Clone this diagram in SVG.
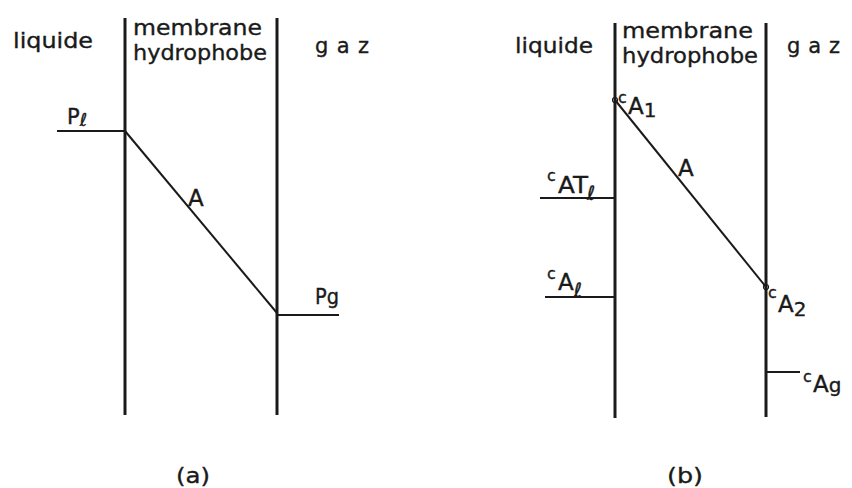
<svg xmlns="http://www.w3.org/2000/svg" width="852" height="488" viewBox="0 0 852 488">
<style>
text{font-family:"DejaVu Sans","Liberation Sans",sans-serif;fill:#1a1a1a;stroke:#1a1a1a;stroke-width:0.35}
.t{font-size:21px}
.L{font-size:23px}
.s{font-size:16px}
.sub{font-size:20px}
.wall{stroke:#1a1a1a;stroke-width:3;fill:none}
.ln{stroke:#1a1a1a;stroke-width:2;fill:none}
</style>
<rect width="852" height="488" fill="#fff"/>
<g id="panel-a">
  <g id="a-labels">
    <text class="t" x="13" y="48" textLength="80" lengthAdjust="spacingAndGlyphs">liquide</text>
    <text class="t" x="133" y="35" textLength="129" lengthAdjust="spacingAndGlyphs">membrane</text>
    <text class="t" x="133" y="60" textLength="134" lengthAdjust="spacingAndGlyphs">hydrophobe</text>
    <text class="t" x="315" y="53" textLength="54" lengthAdjust="spacing">g a z</text>
  </g>
  <g id="a-membrane">
    <line class="wall" x1="125" y1="18" x2="125" y2="415"/>
    <line class="wall" x1="277" y1="18" x2="277" y2="415"/>
  </g>
  <g id="a-Pl">
    <line class="ln" x1="57" y1="131" x2="125" y2="131"/>
    <text class="t" x="67" y="124">P<tspan font-style="italic" font-size="18" dy="2">ℓ</tspan></text>
  </g>
  <g id="a-Pg">
    <line class="ln" x1="277" y1="315" x2="339" y2="315"/>
    <text class="t" x="315" y="304" textLength="24" lengthAdjust="spacingAndGlyphs">Pg</text>
  </g>
  <g id="a-profile">
    <line class="ln" x1="125" y1="131" x2="277" y2="313"/>
    <text class="L" x="188" y="206">A</text>
  </g>
  <text id="a-caption" class="t" x="176" y="483" textLength="34" lengthAdjust="spacingAndGlyphs">(a)</text>
</g>
<g id="panel-b">
  <g id="b-labels">
    <text class="t" x="515" y="53" textLength="78" lengthAdjust="spacingAndGlyphs">liquide</text>
    <text class="t" x="622" y="38" textLength="131" lengthAdjust="spacingAndGlyphs">membrane</text>
    <text class="t" x="622" y="63" textLength="136" lengthAdjust="spacingAndGlyphs">hydrophobe</text>
    <text class="t" x="787" y="53" textLength="53" lengthAdjust="spacing">g a z</text>
  </g>
  <g id="b-membrane">
    <line class="wall" x1="615" y1="23" x2="615" y2="418"/>
    <line class="wall" x1="766" y1="23" x2="766" y2="417"/>
  </g>
  <g id="b-profile">
    <line class="ln" x1="615" y1="100" x2="766" y2="287"/>
    <circle cx="615" cy="100" r="2.5" fill="none" stroke="#1a1a1a" stroke-width="1.2"/>
    <circle cx="766" cy="287" r="2.5" fill="none" stroke="#1a1a1a" stroke-width="1.2"/>
    <text class="L" x="678" y="176">A</text>
  </g>
  <g id="b-cA1">
    <text class="s" x="618" y="103">c</text>
    <text class="L" x="628" y="114">A<tspan class="sub" dy="3">1</tspan></text>
  </g>
  <g id="b-cATl">
    <line class="ln" x1="540" y1="198" x2="615" y2="198"/>
    <text class="s" x="547" y="181">c</text>
    <text class="L" x="558" y="193" textLength="30" lengthAdjust="spacingAndGlyphs">AT</text>
    <text class="sub" x="587" y="200" font-style="italic">ℓ</text>
  </g>
  <g id="b-cAl">
    <line class="ln" x1="545" y1="297" x2="615" y2="297"/>
    <text class="s" x="547" y="279">c</text>
    <text class="L" x="558" y="290">A<tspan font-style="italic" class="sub" dy="7">ℓ</tspan></text>
  </g>
  <g id="b-cA2">
    <text class="s" x="768" y="298">c</text>
    <text class="L" x="778" y="312">A<tspan class="sub" dy="4">2</tspan></text>
  </g>
  <g id="b-cAg">
    <line class="ln" x1="766" y1="372" x2="800" y2="372"/>
    <text class="s" x="803" y="382">c</text>
    <text class="L" x="813" y="392">A<tspan class="sub" dy="0">g</tspan></text>
  </g>
  <text id="b-caption" class="t" x="667" y="483" textLength="36" lengthAdjust="spacingAndGlyphs">(b)</text>
</g>
</svg>
